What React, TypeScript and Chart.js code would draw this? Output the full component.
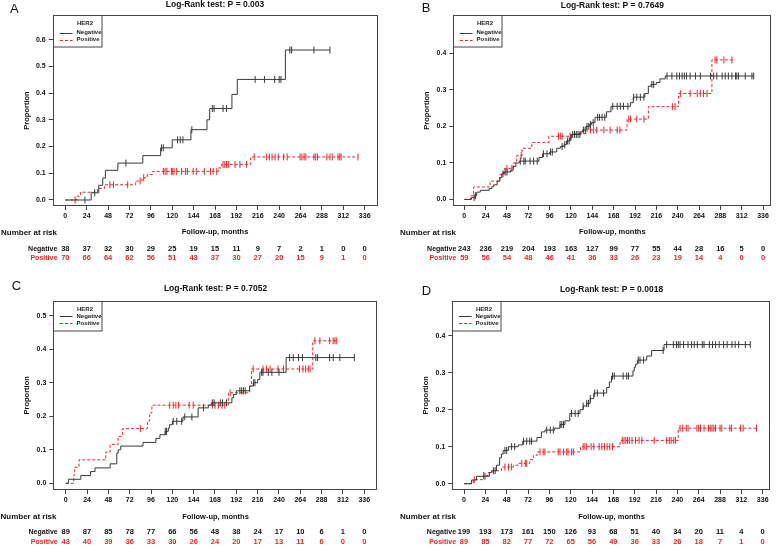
import React, { useEffect, useRef } from "react";
import { Chart, registerables } from "chart.js";
Chart.register(...registerables);

const FONT = '"Liberation Sans", Arial, Helvetica, sans-serif';
const BLACK = "#383838";
const RED = "#e8262d";
const BOX = "#444444";

const X_TICKS = [0, 24, 48, 72, 96, 120, 144, 168, 192, 216, 240, 264, 288, 312, 336];
const GROUP_LABELS = ["Negative", "Positive"];
const LEGEND_TITLE = "HER2";
const X_TITLE = "Follow-up, months";
const RISK_TITLE = "Number at risk";
const Y_TITLE = "Proportion";

// ---------- Panel A ----------
const A_P = "0.003";
const A_Y_TICKS = [0, 0.1, 0.2, 0.3, 0.4, 0.5, 0.6];
const A_NEG_T = [29, 37.5, 42, 45, 59, 87, 107, 120, 141, 159, 162, 187, 193, 247];
const A_NEG_Y = [0.027, 0.055, 0.082, 0.111, 0.138, 0.166, 0.195, 0.225, 0.263, 0.3, 0.342, 0.395, 0.451, 0.561];
const A_NEG_CENS = [22, 33, 68, 108, 110, 126, 129, 132, 142, 165, 167, 177, 181, 213, 223.5, 235, 240, 242, 252, 254, 279, 297];
const A_NEG_END = 297;
const A_POS_T = [13, 17, 36, 44, 79, 86, 92, 98, 172, 175.5, 208];
const A_POS_Y = [0.014, 0.029, 0.043, 0.057, 0.071, 0.083, 0.095, 0.107, 0.12, 0.133, 0.161];
const A_POS_CENS = [11, 50, 54, 70, 84, 88, 110, 112, 114, 119, 120, 122, 125, 130.5, 135, 137, 143.5, 147, 156, 163, 166, 170, 177, 179, 181, 183, 190.5, 196, 203.5, 212, 226, 229, 232, 235.5, 239, 245, 249, 263.5, 265.5, 268, 270, 279, 281, 283, 293.5, 297, 299.5, 306, 308, 309.5, 328.5];
const A_POS_END = 328.5;
const A_NEG_RISK = [38, 37, 32, 30, 29, 25, 19, 15, 11, 9, 7, 2, 1, 0, 0];
const A_POS_RISK = [70, 66, 64, 62, 56, 51, 43, 37, 30, 27, 20, 15, 9, 1, 0];

// ---------- Panel B ----------
const B_P = "0.7649";
const B_Y_TICKS = [0, 0.1, 0.2, 0.3, 0.4];
const B_NEG_T = [8, 12, 14, 18, 28, 31, 33, 37, 40, 42, 44, 52, 55, 58, 62, 84, 88, 96, 104, 108, 112, 115, 119, 121, 131, 133, 137, 141, 143, 147, 160, 165, 187, 190, 203, 207, 210, 216, 220, 226];
const B_NEG_Y = [0.005, 0.01, 0.02, 0.025, 0.03, 0.035, 0.04, 0.05, 0.06, 0.07, 0.075, 0.08, 0.09, 0.1, 0.105, 0.115, 0.125, 0.13, 0.14, 0.145, 0.15, 0.16, 0.17, 0.178, 0.185, 0.19, 0.2, 0.205, 0.21, 0.225, 0.24, 0.255, 0.265, 0.28, 0.29, 0.31, 0.315, 0.32, 0.33, 0.338];
const B_NEG_CENS = [11, 12.5, 43.5, 46, 48, 63, 67, 68.5, 74, 78, 82, 89, 93, 97, 99, 110, 113, 116, 118, 120, 122, 124, 126, 128, 130, 134, 136, 138, 140, 142, 145, 150, 152, 155, 158, 167, 172, 175.5, 179, 184, 190.5, 194, 198, 202, 211, 213, 228, 233.5, 239, 242, 245, 247.5, 250, 254, 260, 265.5, 277, 280.5, 284, 290, 293.5, 297, 301, 305, 306.5, 308.5, 316, 323.5, 325.5];
const B_NEG_END = 325.5;
const B_POS_T = [7, 10.5, 29, 40, 45, 55, 59, 65, 76, 95, 121, 138, 183, 207, 241, 278.5];
const B_POS_Y = [0.01, 0.034, 0.05, 0.068, 0.085, 0.1, 0.12, 0.14, 0.156, 0.173, 0.18, 0.19, 0.22, 0.254, 0.29, 0.382];
const B_POS_CENS = [48, 53.5, 64, 106, 108, 110, 119, 142, 145.5, 149, 157, 164, 172, 175, 185, 187, 194, 202, 234, 237, 243, 254, 262, 265.5, 269, 273, 282, 284, 292, 301];
const B_POS_END = 303;
const B_NEG_RISK = [243, 236, 219, 204, 193, 163, 127, 99, 77, 55, 44, 28, 16, 5, 0];
const B_POS_RISK = [59, 56, 54, 48, 46, 41, 36, 33, 26, 23, 19, 14, 4, 0, 0];

// ---------- Panel C ----------
const C_P = "0.7052";
const C_Y_TICKS = [0, 0.1, 0.2, 0.3, 0.4, 0.5];
const C_NEG_T = [3, 17, 28, 33, 50, 57.5, 59, 62, 87, 101.5, 106, 112, 115.5, 117, 120, 132, 149, 160.5, 164, 187, 189, 192, 207, 211, 216, 218.5, 248];
const C_NEG_Y = [0.012, 0.023, 0.035, 0.046, 0.058, 0.09, 0.1, 0.111, 0.122, 0.134, 0.145, 0.155, 0.165, 0.175, 0.185, 0.198, 0.225, 0.233, 0.24, 0.255, 0.265, 0.276, 0.29, 0.3, 0.31, 0.331, 0.375];
const C_NEG_CENS = [112, 113.5, 121, 125, 130.5, 134, 142, 155, 165, 167, 174, 176.5, 181, 196, 198, 200, 202, 211.5, 213, 220.5, 222, 228, 232, 240, 252, 256, 262, 266.5, 281.5, 283.5, 297, 301, 308.5, 324.8];
const C_NEG_END = 324.8;
const C_POS_T = [9, 10, 15, 45, 50, 59, 64, 92, 94.5, 97, 183, 207, 209, 278];
const C_POS_Y = [0.024, 0.048, 0.07, 0.093, 0.116, 0.14, 0.163, 0.186, 0.21, 0.233, 0.27, 0.29, 0.341, 0.425];
const C_POS_CENS = [84, 117, 121, 124, 127, 139, 143.5, 165, 168, 172, 176, 179, 185, 211, 222, 226, 230, 239, 245, 263, 267, 270, 273, 275, 280.5, 286, 297, 301, 303, 305];
const C_POS_END = 305.5;
const C_NEG_RISK = [89, 87, 85, 78, 77, 66, 56, 48, 38, 24, 17, 10, 6, 1, 0];
const C_POS_RISK = [43, 40, 39, 36, 33, 30, 26, 24, 20, 17, 13, 11, 6, 0, 0];

// ---------- Panel D ----------
const D_P = "0.0018";
const D_Y_TICKS = [0, 0.1, 0.2, 0.3, 0.4];
const D_NEG_T = [8.5, 14, 28.5, 31, 36.5, 40, 42, 44, 50, 61, 66, 82, 87, 91, 102, 108, 113.5, 119, 130.5, 134, 138, 142, 146, 160.5, 163.5, 166, 190, 191.5, 193, 195, 205.5, 211, 225];
const D_NEG_Y = [0.01, 0.02, 0.03, 0.035, 0.05, 0.07, 0.08, 0.09, 0.1, 0.105, 0.115, 0.125, 0.14, 0.145, 0.15, 0.16, 0.17, 0.19, 0.2, 0.21, 0.217, 0.23, 0.245, 0.26, 0.275, 0.291, 0.305, 0.315, 0.323, 0.334, 0.345, 0.36, 0.376];
const D_NEG_CENS = [23.5, 33, 35, 46, 48, 53.5, 57, 67, 70.5, 74, 76, 93, 97, 100.5, 108, 110, 112, 121, 125, 128.5, 134, 138, 140, 142, 147, 150, 157, 167, 169, 179, 183, 185, 196, 198, 202, 224, 228, 235.5, 239, 241, 243, 247, 252, 256, 259, 262.5, 268, 270, 276, 279.5, 283, 287, 292, 296, 301.5, 305, 309, 316.5, 322];
const D_NEG_END = 322;
const D_POS_T = [10.5, 22, 27, 33, 42, 55.5, 61, 74, 78, 82.5, 131, 175.5, 241];
const D_POS_Y = [0.011, 0.022, 0.03, 0.035, 0.045, 0.05, 0.055, 0.065, 0.077, 0.086, 0.1, 0.117, 0.15];
const D_POS_CENS = [11.5, 22, 46, 50, 53.5, 65, 69, 70.5, 85.5, 89, 91, 106, 108, 112, 115.5, 117, 121, 123, 134, 136, 138, 143, 146, 152, 155, 158, 161, 164, 167, 178, 180, 182, 184, 186, 189, 193, 197, 200, 214, 228, 231, 233, 236, 238, 243, 246, 250, 252, 262, 264, 266, 270, 275, 277, 279, 281, 283, 288, 290, 299, 301, 311, 314, 329];
const D_POS_END = 329;
const D_NEG_RISK = [199, 193, 173, 161, 150, 126, 93, 68, 51, 40, 34, 20, 11, 4, 0];
const D_POS_RISK = [89, 85, 82, 77, 72, 65, 56, 49, 36, 33, 26, 18, 7, 1, 0];

type Box = { l: number; r: number; t: number; b: number };
type PanelCfg = {
  letter: string; p: string;
  left: number; top: number; w: number; h: number;
  box: Box; xMin: number; xMax: number; yMin: number; yMax: number; yTicks: number[];
  negT: number[]; negY: number[]; negC: number[]; negEnd: number;
  posT: number[]; posY: number[]; posC: number[]; posEnd: number;
  negRisk: number[]; posRisk: number[];
  letterX: number; letterY: number; titleY: number;
  riskTitleX: number; riskTitleY: number; row1Y: number; row2Y: number;
  legH: number; legOff: number[];
};

const PANELS: PanelCfg[] = [
  {
    letter: "A", p: A_P, left: 0, top: 0, w: 389, h: 274,
    box: { l: 52.7, r: 377.3, t: 15, b: 206 }, xMin: -14.14, xMax: 350.14, yMin: -0.0225, yMax: 0.692, yTicks: A_Y_TICKS,
    negT: A_NEG_T, negY: A_NEG_Y, negC: A_NEG_CENS, negEnd: A_NEG_END,
    posT: A_POS_T, posY: A_POS_Y, posC: A_POS_CENS, posEnd: A_POS_END,
    negRisk: A_NEG_RISK, posRisk: A_POS_RISK,
    letterX: 10, letterY: 9.2, titleY: 5, riskTitleX: 1, riskTitleY: 232.3, row1Y: 249.3, row2Y: 258.3,
    legH: 31.5, legOff: [8.2, 17, 24.2],
  },
  {
    letter: "B", p: B_P, left: 389, top: 0, w: 389, h: 274,
    box: { l: 64.3, r: 382.3, t: 15, b: 206 }, xMin: -12.37, xMax: 345.3, yMin: -0.018, yMax: 0.505, yTicks: B_Y_TICKS,
    negT: B_NEG_T, negY: B_NEG_Y, negC: B_NEG_CENS, negEnd: B_NEG_END,
    posT: B_POS_T, posY: B_POS_Y, posC: B_POS_CENS, posEnd: B_POS_END,
    negRisk: B_NEG_RISK, posRisk: B_POS_RISK,
    letterX: 32.7, letterY: 8.5, titleY: 6, riskTitleX: 11, riskTitleY: 232.3, row1Y: 249.3, row2Y: 258.3,
    legH: 31.5, legOff: [8.2, 17, 24.2],
  },
  {
    letter: "C", p: C_P, left: 0, top: 274, w: 389, h: 274,
    box: { l: 53.3, r: 377.7, t: 26.7, b: 216 }, xMin: -13.95, xMax: 351.1, yMin: -0.02, yMax: 0.5447, yTicks: C_Y_TICKS,
    negT: C_NEG_T, negY: C_NEG_Y, negC: C_NEG_CENS, negEnd: C_NEG_END,
    posT: C_POS_T, posY: C_POS_Y, posC: C_POS_CENS, posEnd: C_POS_END,
    negRisk: C_NEG_RISK, posRisk: C_POS_RISK,
    letterX: 11.7, letterY: 12, titleY: 14.8, riskTitleX: 0.5, riskTitleY: 242.7, row1Y: 258.2, row2Y: 268.2,
    legH: 29.5, legOff: [7.6, 14.6, 21.8],
  },
  {
    letter: "D", p: D_P, left: 389, top: 274, w: 389, h: 274,
    box: { l: 63.3, r: 381.7, t: 26.7, b: 216 }, xMin: -13.2, xMax: 345, yMin: -0.017, yMax: 0.4946, yTicks: D_Y_TICKS,
    negT: D_NEG_T, negY: D_NEG_Y, negC: D_NEG_CENS, negEnd: D_NEG_END,
    posT: D_POS_T, posY: D_POS_Y, posC: D_POS_CENS, posEnd: D_POS_END,
    negRisk: D_NEG_RISK, posRisk: D_POS_RISK,
    letterX: 32.7, letterY: 17.3, titleY: 15.3, riskTitleX: 11, riskTitleY: 242.7, row1Y: 258.3, row2Y: 268.3,
    legH: 29.5, legOff: [7.6, 14.6, 21.8],
  },
];

function stepPoints(ts: number[], ys: number[], end: number) {
  const pts = [{ x: 0, y: 0 }];
  ts.forEach((t, i) => pts.push({ x: t, y: ys[i] }));
  pts.push({ x: end, y: ys[ys.length - 1] });
  return pts;
}

function valueAt(ts: number[], ys: number[], t: number) {
  let v = 0;
  for (let i = 0; i < ts.length; i++) if (ts[i] <= t) v = ys[i];
  return v;
}

function censorPoints(ts: number[], ys: number[], cens: number[]) {
  return cens.map((c) => ({ x: c, y: valueAt(ts, ys, c) }));
}

const Y_AXIS_W = 30;
const X_AXIS_H = 20;

function makePlugin(cfg: PanelCfg) {
  return {
    id: "kmPanel" + cfg.letter,
    afterDraw(chart: any) {
      const ctx: CanvasRenderingContext2D = chart.ctx;
      const { left, right, top, bottom } = chart.chartArea;
      const xs = chart.scales.x;
      ctx.save();
      // plot box
      ctx.strokeStyle = BOX;
      ctx.lineWidth = 1;
      ctx.strokeRect(Math.round(left) + 0.5, Math.round(top) + 0.5, Math.round(right - left) - 1, Math.round(bottom - top) - 1);

      // legend
      const lw = 48.5;
      const lx = Math.round(left) + 0.5;
      const ly = Math.round(top) + 0.5;
      ctx.fillStyle = "#ffffff";
      ctx.fillRect(lx, ly, lw, cfg.legH);
      ctx.strokeStyle = BOX;
      ctx.strokeRect(lx, ly, lw, cfg.legH);
      ctx.font = `bold 6px ${FONT}`;
      ctx.textBaseline = "middle";
      ctx.textAlign = "left";
      ctx.fillStyle = "#222";
      ctx.fillText(LEGEND_TITLE, lx + 23.5, ly + cfg.legOff[0]);
      ctx.fillText(GROUP_LABELS[0], lx + 23, ly + cfg.legOff[1]);
      ctx.fillText(GROUP_LABELS[1], lx + 23, ly + cfg.legOff[2]);
      ctx.lineWidth = 1;
      ctx.strokeStyle = BLACK;
      ctx.beginPath();
      ctx.moveTo(lx + 6.5, Math.round(ly + cfg.legOff[1]) + 0.5);
      ctx.lineTo(lx + 19, Math.round(ly + cfg.legOff[1]) + 0.5);
      ctx.stroke();
      ctx.strokeStyle = RED;
      ctx.setLineDash([3, 2]);
      ctx.beginPath();
      ctx.moveTo(lx + 6.5, Math.round(ly + cfg.legOff[2]) + 0.5);
      ctx.lineTo(lx + 19, Math.round(ly + cfg.legOff[2]) + 0.5);
      ctx.stroke();
      ctx.setLineDash([]);

      // title & letter
      ctx.fillStyle = "#111";
      ctx.textAlign = "center";
      ctx.font = `bold 8.5px ${FONT}`;
      ctx.fillText(`Log-Rank test: P = ${cfg.p}`, (left + right) / 2, cfg.titleY);
      ctx.textAlign = "left";
      ctx.font = `13px ${FONT}`;
      ctx.fillText(cfg.letter, cfg.letterX, cfg.letterY);

      // y title
      ctx.save();
      ctx.translate(left - 26, (top + bottom) / 2);
      ctx.rotate(-Math.PI / 2);
      ctx.textAlign = "center";
      ctx.font = `bold 7.5px ${FONT}`;
      ctx.fillText(Y_TITLE, 0, 0);
      ctx.restore();

      // number at risk
      ctx.textAlign = "left";
      ctx.font = `bold 8px ${FONT}`;
      ctx.fillText(RISK_TITLE, cfg.riskTitleX, cfg.riskTitleY);
      ctx.textAlign = "center";
      ctx.font = `bold 7.5px ${FONT}`;
      ctx.fillText(X_TITLE, (left + right) / 2, cfg.riskTitleY);

      const x0 = xs.getPixelForValue(X_TICKS[0]);
      ctx.font = `bold 7px ${FONT}`;
      ctx.textAlign = "right";
      ctx.fillStyle = "#111";
      ctx.fillText(GROUP_LABELS[0], x0 - 8, cfg.row1Y);
      ctx.fillStyle = RED;
      ctx.fillText(GROUP_LABELS[1], x0 - 8, cfg.row2Y);
      ctx.font = `bold 7.5px ${FONT}`;
      ctx.textAlign = "center";
      X_TICKS.forEach((t, i) => {
        const px = xs.getPixelForValue(t);
        ctx.fillStyle = "#111";
        ctx.fillText(String(cfg.negRisk[i]), px, cfg.row1Y);
        ctx.fillStyle = RED;
        ctx.fillText(String(cfg.posRisk[i]), px, cfg.row2Y);
      });
      ctx.restore();
    },
  };
}

function KMPanel({ cfg }: { cfg: PanelCfg }) {
  const ref = useRef<HTMLCanvasElement>(null);
  useEffect(() => {
    const canvas = ref.current!;
    const tickFont = { size: 7, weight: "bold" as const, family: FONT };
    const chart = new Chart(canvas, {
      type: "line",
      data: {
        datasets: [
          {
            label: GROUP_LABELS[0] + " censored",
            data: censorPoints(cfg.negT, cfg.negY, cfg.negC),
            showLine: false,
            pointStyle: "line",
            pointRotation: 90,
            pointRadius: 3.5,
            pointHoverRadius: 3.5,
            pointBorderColor: BLACK,
            pointBorderWidth: 1,
            borderColor: BLACK,
          } as any,
          {
            label: GROUP_LABELS[0],
            data: stepPoints(cfg.negT, cfg.negY, cfg.negEnd),
            borderColor: BLACK,
            borderWidth: 1,
            stepped: "before",
            pointRadius: 0,
            fill: false,
          },
          {
            label: GROUP_LABELS[1] + " censored",
            data: censorPoints(cfg.posT, cfg.posY, cfg.posC),
            showLine: false,
            pointStyle: "line",
            pointRotation: 90,
            pointRadius: 3.5,
            pointHoverRadius: 3.5,
            pointBorderColor: RED,
            pointBorderWidth: 1,
            borderColor: RED,
          } as any,
          {
            label: GROUP_LABELS[1],
            data: stepPoints(cfg.posT, cfg.posY, cfg.posEnd),
            borderColor: RED,
            borderWidth: 1,
            borderDash: [3, 2],
            stepped: "before",
            pointRadius: 0,
            fill: false,
          },
        ],
      },
      options: {
        animation: false,
        responsive: false,
        devicePixelRatio: 1,
        events: [],
        layout: {
          padding: {
            left: cfg.box.l - Y_AXIS_W,
            right: cfg.w - cfg.box.r,
            top: cfg.box.t,
            bottom: cfg.h - cfg.box.b - X_AXIS_H,
          },
        },
        plugins: { legend: { display: false }, tooltip: { enabled: false }, title: { display: false } },
        scales: {
          x: {
            type: "linear",
            min: cfg.xMin,
            max: cfg.xMax,
            afterBuildTicks: (s: any) => {
              s.ticks = X_TICKS.map((v) => ({ value: v }));
            },
            afterFit: (s: any) => {
              s.height = X_AXIS_H;
            },
            ticks: {
              autoSkip: false,
              maxRotation: 0,
              minRotation: 0,
              padding: 2,
              color: "#111",
              font: tickFont,
              callback: (v: any) => String(v),
            },
            grid: { display: true, drawOnChartArea: false, drawTicks: true, tickLength: 4, color: BOX, lineWidth: 1 },
            border: { display: false },
          },
          y: {
            type: "linear",
            min: cfg.yMin,
            max: cfg.yMax,
            afterBuildTicks: (s: any) => {
              s.ticks = cfg.yTicks.map((v) => ({ value: v }));
            },
            afterFit: (s: any) => {
              s.width = Y_AXIS_W;
            },
            ticks: {
              padding: 3,
              color: "#111",
              font: tickFont,
              callback: (v: any) => Number(v).toFixed(1),
            },
            grid: { display: true, drawOnChartArea: false, drawTicks: true, tickLength: 4, color: BOX, lineWidth: 1 },
            border: { display: false },
          },
        },
      },
      plugins: [makePlugin(cfg)],
    } as any);
    return () => chart.destroy();
  }, [cfg]);
  return (
    <canvas
      ref={ref}
      width={cfg.w}
      height={cfg.h}
      style={{ position: "absolute", left: cfg.left, top: cfg.top, width: cfg.w, height: cfg.h, display: "block" }}
    />
  );
}

export default function App() {
  return (
    <div style={{ position: "absolute", left: 0, top: 0, width: 778, height: 548, background: "#fff", overflow: "hidden" }}>
      {PANELS.map((p) => (
        <KMPanel key={p.letter} cfg={p} />
      ))}
    </div>
  );
}
